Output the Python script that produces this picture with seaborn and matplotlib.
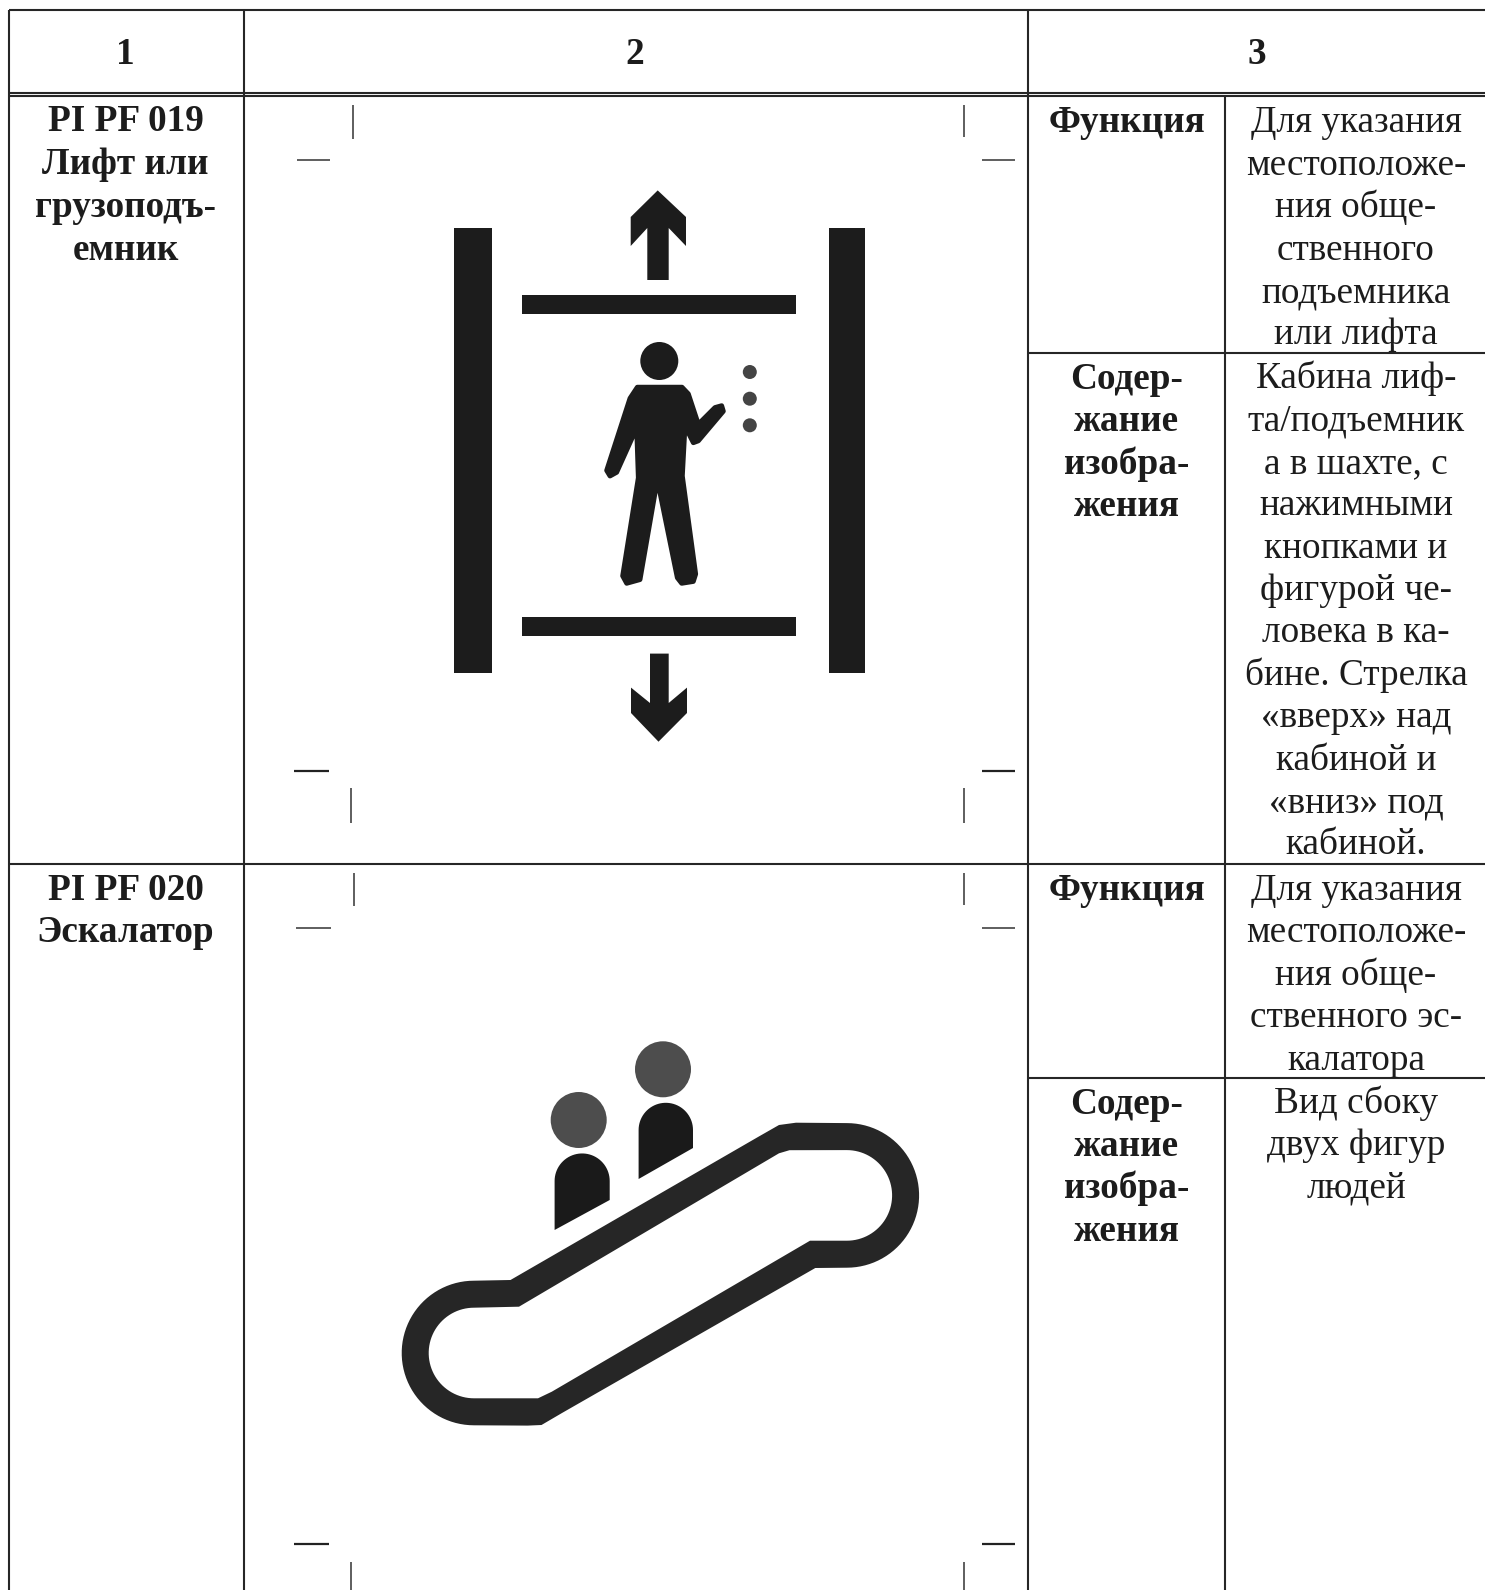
import numpy as np
import pandas as pd
import matplotlib.pyplot as plt
import seaborn as sns

sns.set_theme(style='white')
plt.rcParams['font.family'] = ['Liberation Serif', 'DejaVu Serif']

INK = '#1c1c1c'
RULE = '#262626'
FS = 26.8
STEP = 42.4

# table text
headers = ['1', '2', '3']
header_x = [125, 635, 1257]
name_1 = ['PI PF 019', 'Лифт или', 'грузоподъ-', 'емник']
name_2 = ['PI PF 020', 'Эскалатор']
func_label = ['Функция']
content_label = ['Содер-', 'жание', 'изобра-', 'жения']
func_1 = ['Для указания', 'местоположе-', 'ния обще-', 'ственного', 'подъемника', 'или лифта']
content_1 = ['Кабина лиф-', 'та/подъемник', 'а в шахте, с', 'нажимными', 'кнопками и', 'фигурой че-',
             'ловека в ка-', 'бине. Стрелка', '«вверх» над', 'кабиной и', '«вниз» под', 'кабиной.']
func_2 = ['Для указания', 'местоположе-', 'ния обще-', 'ственного эс-', 'калатора']
content_2 = ['Вид сбоку', 'двух фигур', 'людей']

# table rules: x0, x1, y0, y1
rules = [
    (8.5, 1485, 10, 10), (8.5, 1485, 92.7, 92.7), (8.5, 1485, 96.3, 96.3), (8.5, 1485, 864, 864),
    (1027.5, 1485, 352.5, 352.5), (1027.5, 1485, 1078, 1078),
    (8.5, 8.5, 10, 1590), (243.7, 243.7, 10, 1590), (1027.5, 1027.5, 10, 1590), (1224.5, 1224.5, 96, 1590),
]

# crop marks around the two pictograms
marks_thin = [
    (353, 353, 105, 139), (297, 330, 160, 160), (963.6, 963.6, 105, 137), (982, 1015, 159.5, 159.5),
    (351, 351, 788, 823), (963.6, 963.6, 788, 823),
    (354, 354, 873, 906), (296, 331, 928, 928), (963.6, 963.6, 873, 905), (982, 1015, 928, 928),
    (351, 351, 1562, 1590), (963.6, 963.6, 1562, 1590),
]
marks_thick = [(294, 329, 771, 771), (982, 1015, 771, 771), (294, 329, 1544, 1544), (982, 1015, 1544, 1544)]

# lift pictogram
lift_bars = [(454, 491.5, 228, 673), (829, 864.5, 228, 673), (522, 796, 295, 314), (522, 796, 617, 636)]
arrow_up = [(657.7, 190.4), (686, 217), (686, 246), (668.7, 228), (668.7, 280), (647.3, 280), (647.3, 228),
            (630.7, 246), (630.7, 217)]
arrow_down = [(650, 653.6), (668.7, 653.6), (668.7, 703), (687, 687.6), (687, 713), (658.5, 741.7), (631, 713),
              (631, 687.6), (650, 703)]
person = [(592, 560), (726, 560), (745, 578), (775, 660), (825, 615), (845, 610), (850, 625), (775, 705),
          (760, 710), (735, 665), (727, 800), (767, 1065), (760, 1085), (725, 1090), (712, 1075), (652, 810),
          (600, 1080), (560, 1090), (548, 1070), (595, 805), (590, 670), (530, 790), (510, 800), (500, 785),
          (570, 590)]
lift_head = (659.3, 361, 19)
lift_buttons = [(749.8, 372, 7), (749.8, 398.7, 7), (749.8, 425.3, 7)]

# escalator pictogram
esc_heads = [(663, 1069.3, 28), (578.7, 1120, 28)]
# left x, right x, arc centre y, right bottom y, left bottom y
esc_bodies = [(638.6, 693, 1130, 1148, 1179), (554.6, 609.7, 1181, 1200, 1230)]
esc_right_c = (846.8, 1195.4)
esc_left_c = (474, 1353)
esc_outer_r = 72.3
esc_inner_r = 45.3
outer_top = [(510.5, 1280), (758.5, 1136.7), (779, 1125), (796, 1122.7)]
outer_low = [(815.3, 1268), (562, 1413), (541.5, 1425), (527.7, 1425.6)]
inner_top = [(519, 1306.7), (779, 1153.3), (789.5, 1150.2)]
inner_low = [(810, 1240.7), (551.8, 1391.7), (538, 1398.3), (531, 1398.3)]


def draw_segments(ax, segs, color, lw):
    rows = []
    for i, (x0, x1, y0, y1) in enumerate(segs):
        rows.append({'id': i, 'order': 0, 'x': x0, 'y': y0})
        rows.append({'id': i, 'order': 1, 'x': x1, 'y': y1})
    df = pd.DataFrame(rows)
    sns.lineplot(data=df, x='x', y='y', units='id', estimator=None, sort=False, color=color, linewidth=lw,
                 ax=ax, legend=False, solid_capstyle='butt')


def draw_block(ax, lines, x, y, bold=False, step=STEP):
    for i, line in enumerate(lines):
        ax.text(x, y + i * step, line, ha='center', va='baseline', fontsize=FS, color=INK,
                fontweight='bold' if bold else 'normal')


def disc(ax, c, color):
    ax.add_patch(plt.Circle((c[0], c[1]), c[2], color=color, lw=0))


def band_edge(top, low, r):
    # one closed outline of the escalator band: top run, right bend, low run, left bend
    t_r = np.linspace(np.pi / 2, -np.pi / 2, 50)
    t_l = np.linspace(-np.pi / 2, -3 * np.pi / 2, 50)
    xs = [p[0] for p in top] + list(esc_right_c[0] + r * np.cos(t_r))
    ys = [p[1] for p in top] + list(esc_right_c[1] - r * np.sin(t_r))
    xs += [p[0] for p in low] + list(esc_left_c[0] + r * np.cos(t_l))
    ys += [p[1] for p in low] + list(esc_left_c[1] - r * np.sin(t_l))
    return xs, ys


fig = plt.figure(figsize=(14.85, 15.9), dpi=100, facecolor='white')
ax = fig.add_axes([0, 0, 1, 1])

draw_segments(ax, rules, RULE, 1.5)
draw_segments(ax, marks_thin, '#333333', 1.1)
draw_segments(ax, marks_thick, '#222222', 1.6)

# text
for h, x in zip(headers, header_x):
    ax.text(x, 64, h, ha='center', va='baseline', fontsize=FS, color=INK, fontweight='bold')
draw_block(ax, name_1, 125.5, 131, bold=True, step=42.9)
draw_block(ax, name_2, 125.5, 900, bold=True)
draw_block(ax, func_label, 1127, 132.5, bold=True)
draw_block(ax, content_label, 1127, 389, bold=True)
draw_block(ax, func_1, 1356, 132.5)
draw_block(ax, content_1, 1356, 388)
draw_block(ax, func_label, 1127, 900, bold=True)
draw_block(ax, content_label, 1127, 1113.5, bold=True)
draw_block(ax, func_2, 1356, 900)
draw_block(ax, content_2, 1356, 1113)

# lift
for x0, x1, y0, y1 in lift_bars:
    ax.fill([x0, x1, x1, x0], [y0, y0, y1, y1], color=INK, lw=0)
for shape in (arrow_up, arrow_down):
    ax.fill(*zip(*shape), color=INK, lw=0)
ax.fill([440 + p[0] / 3 for p in person], [180 + p[1] * 0.37 for p in person], facecolor=INK, edgecolor=INK,
        lw=3.5, joinstyle='round')
disc(ax, lift_head, INK)
for b in lift_buttons:
    disc(ax, b, '#444444')

# escalator
for h in esc_heads:
    disc(ax, h, '#4d4d4d')
for left, right, cy, y_r, y_l in esc_bodies:
    r = (right - left) / 2
    t = np.linspace(np.pi, 0, 40)
    xs = list(left + r + r * np.cos(t)) + [right, left]
    ys = list(cy - r * np.sin(t)) + [y_r, y_l]
    ax.fill(xs, ys, color='#1a1a1a', lw=0)

ax.fill(*band_edge(outer_top, outer_low, esc_outer_r), color='#262626', lw=0)
ax.fill(*band_edge(inner_top, inner_low, esc_inner_r), color='white', lw=0)

ax.set_xlim(0, 1485)
ax.set_ylim(1590, 0)
ax.axis('off')

fig.savefig('out.png', dpi=100, facecolor='white')
